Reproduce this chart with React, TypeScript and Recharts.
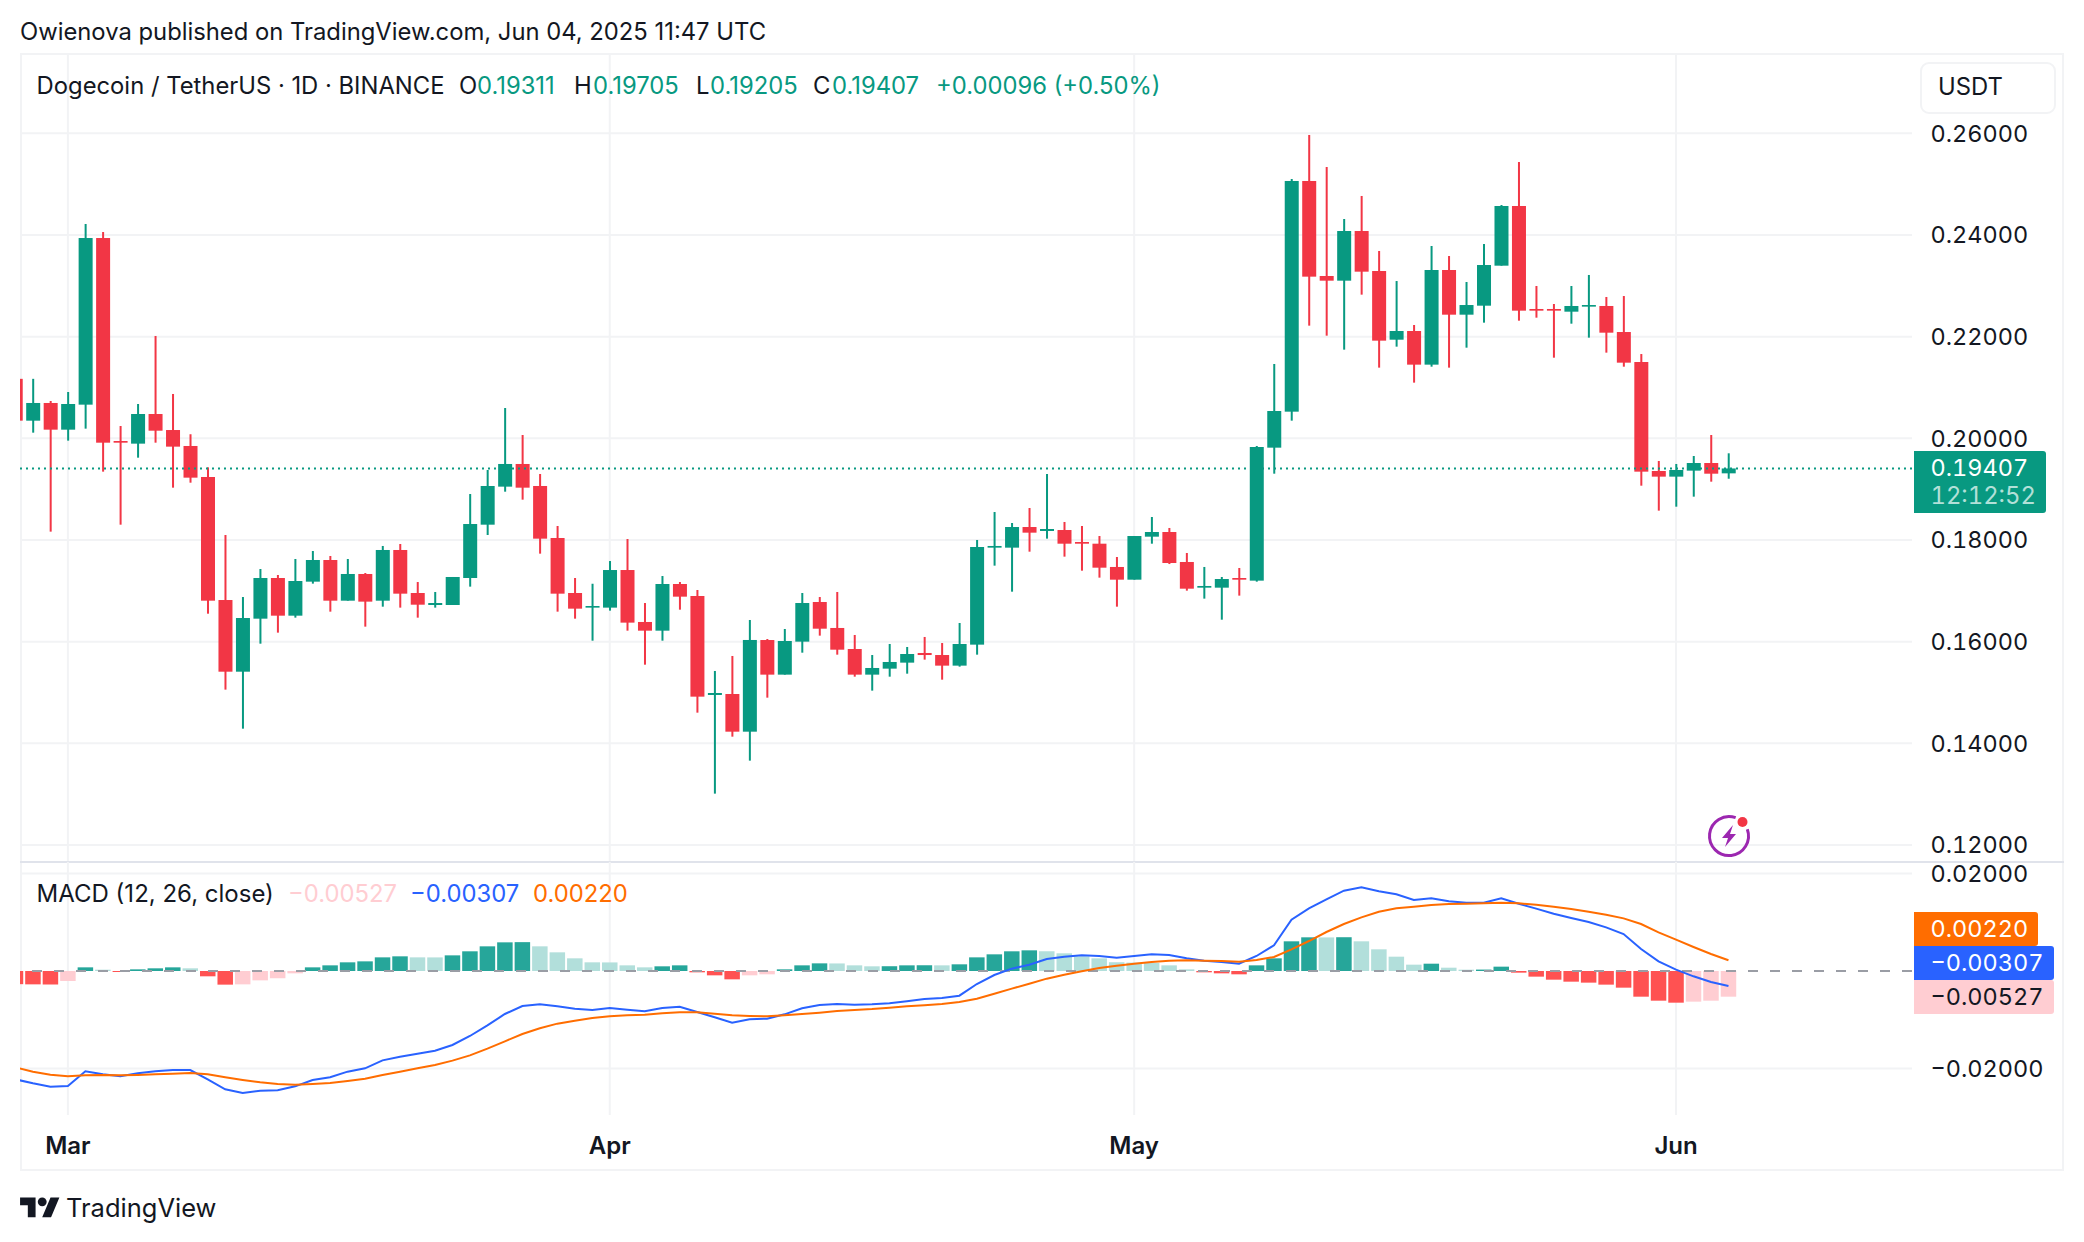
import React from "react";
import { Bar, CartesianGrid, Cell, ComposedChart, Line, ReferenceLine, XAxis, YAxis } from "recharts";

// one bar a day, Feb 26 to Jun 4 2025
const opens = [
  0.2117, 0.20347, 0.20695, 0.2017, 0.20662, 0.2394, 0.19947, 0.19895, 0.20478, 0.20163, 0.19849,
  0.19239, 0.16819, 0.15409, 0.16452, 0.17252, 0.16511, 0.1718, 0.17606, 0.16806, 0.17331, 0.16806,
  0.17803, 0.16957, 0.16721, 0.16721, 0.17252, 0.18301, 0.19049, 0.19495, 0.19062, 0.18039, 0.16957,
  0.16669, 0.16669, 0.17409, 0.16387, 0.16216, 0.17134, 0.16898, 0.14951, 0.1497, 0.14229, 0.16032,
  0.15351, 0.16, 0.1678, 0.16269, 0.15855, 0.15351, 0.15469, 0.15587, 0.15777, 0.15737, 0.15528,
  0.15941, 0.17849, 0.17849, 0.18255, 0.18177, 0.18196, 0.1796, 0.17927, 0.17469, 0.17219, 0.18065,
  0.18157, 0.17567, 0.17062, 0.17062, 0.17252, 0.172, 0.19816, 0.20524, 0.25062, 0.23193, 0.23101,
  0.24078, 0.23291, 0.2194, 0.22111, 0.21449, 0.23311, 0.22432, 0.22609, 0.23396, 0.2457, 0.22544,
  0.22544, 0.22491, 0.2259, 0.22603, 0.22091, 0.21501, 0.19357, 0.19246, 0.19364, 0.19514, 0.19311,
];
const closes = [
  0.20347, 0.20695, 0.2017, 0.20675, 0.2394, 0.19914, 0.19914, 0.20478, 0.2015, 0.19836, 0.19226,
  0.16806, 0.15409, 0.16465, 0.17252, 0.16511, 0.17193, 0.17606, 0.16806, 0.17331, 0.16787, 0.17803,
  0.16944, 0.16727, 0.1676, 0.17272, 0.18314, 0.19062, 0.19495, 0.19029, 0.18026, 0.16944, 0.16649,
  0.16701, 0.17409, 0.16374, 0.16216, 0.17134, 0.16885, 0.14918, 0.1499, 0.14229, 0.16033, 0.15351,
  0.16013, 0.1676, 0.16255, 0.15842, 0.15351, 0.15482, 0.156, 0.15757, 0.15737, 0.15528, 0.15954,
  0.17862, 0.17882, 0.18255, 0.18144, 0.18216, 0.17927, 0.17927, 0.17455, 0.17219, 0.18078, 0.18157,
  0.17547, 0.17042, 0.17095, 0.17232, 0.17219, 0.19829, 0.20537, 0.25062, 0.2318, 0.23101, 0.24078,
  0.23278, 0.21921, 0.22111, 0.21449, 0.23311, 0.22432, 0.22622, 0.23409, 0.2457, 0.22511, 0.22511,
  0.22511, 0.22603, 0.22622, 0.22078, 0.21488, 0.19344, 0.19246, 0.19377, 0.19514, 0.19304, 0.19407,
];
const highs = [
  0.2125, 0.2117, 0.20734, 0.20911, 0.24216, 0.24058, 0.20242, 0.20675, 0.22013, 0.20872, 0.2008,
  0.19429, 0.18098, 0.16878, 0.17429, 0.17311, 0.17626, 0.17783, 0.17685, 0.17626, 0.1735, 0.17882,
  0.17921, 0.17173, 0.16977, 0.17272, 0.18904, 0.19377, 0.20596, 0.20065, 0.19298, 0.18275, 0.17252,
  0.17139, 0.17586, 0.18019, 0.1676, 0.17291, 0.17173, 0.17016, 0.15423, 0.15718, 0.16426, 0.16052,
  0.16249, 0.16957, 0.16878, 0.16977, 0.16131, 0.15737, 0.15954, 0.15895, 0.16092, 0.15973, 0.16367,
  0.18, 0.1855, 0.18334, 0.18629, 0.19298, 0.18354, 0.18275, 0.18078, 0.17665, 0.18078, 0.18452,
  0.18236, 0.17744, 0.17469, 0.17272, 0.17449, 0.19849, 0.21462, 0.25101, 0.25967, 0.25337, 0.24314,
  0.24767, 0.23685, 0.23094, 0.22229, 0.23783, 0.23586, 0.23075, 0.23822, 0.24589, 0.25435, 0.22996,
  0.22642, 0.22996, 0.23213, 0.2278, 0.22799, 0.21658, 0.19554, 0.19495, 0.19652, 0.20065, 0.19705,
];
const lows = [
  0.20347, 0.20111, 0.18164, 0.19954, 0.2019, 0.19344, 0.18301, 0.19619, 0.19914, 0.19029, 0.19127,
  0.1655, 0.15056, 0.14288, 0.1596, 0.16177, 0.16472, 0.17141, 0.1659, 0.16806, 0.16295, 0.16688,
  0.16669, 0.16472, 0.16669, 0.16721, 0.17082, 0.18098, 0.1895, 0.18793, 0.17731, 0.1659, 0.16452,
  0.16019, 0.1661, 0.16216, 0.15547, 0.16019, 0.16629, 0.14603, 0.1301, 0.14131, 0.13659, 0.14898,
  0.15351, 0.15783, 0.16118, 0.15744, 0.15311, 0.15036, 0.15311, 0.1537, 0.15646, 0.15252, 0.15508,
  0.15744, 0.17495, 0.16983, 0.1777, 0.18026, 0.17672, 0.17396, 0.17259, 0.16688, 0.17219, 0.17927,
  0.17527, 0.17003, 0.16846, 0.16432, 0.16905, 0.1718, 0.19304, 0.20347, 0.22216, 0.22019, 0.21744,
  0.22826, 0.2139, 0.21803, 0.21095, 0.21409, 0.2139, 0.21783, 0.22275, 0.23396, 0.22314, 0.22373,
  0.21586, 0.22255, 0.2198, 0.21685, 0.21409, 0.19068, 0.18577, 0.18655, 0.18852, 0.19147, 0.19205,
];
const histogram = [
  -0.0027, -0.00274, -0.00277, -0.00205, 0.00075, 0.00027, -0.00021, 0.00034, 0.00055, 0.00075, 0.00055,
  -0.00109, -0.0028, -0.00274, -0.00192, -0.0015, -0.00048, 0.00075, 0.00116, 0.00178, 0.00198, 0.0028,
  0.00301, 0.0028, 0.00279, 0.00321, 0.00404, 0.00506, 0.00588, 0.00592, 0.00506, 0.00383, 0.0026,
  0.00178, 0.00176, 0.00116, 0.00075, 0.00096, 0.00116, -0.00027, -0.00089, -0.00171, -0.00089, -0.00068,
  0.00034, 0.00116, 0.00157, 0.00155, 0.00116, 0.00096, 0.00098, 0.00116, 0.00118, 0.00116, 0.00137,
  0.0028, 0.00342, 0.00404, 0.00424, 0.00404, 0.00363, 0.00301, 0.0026, 0.0018, 0.00172, 0.00165,
  0.00116, 0.00034, -0.00027, -0.00048, -0.00068, 0.00116, 0.0026, 0.00609, 0.00691, 0.00689, 0.00693,
  0.00609, 0.00445, 0.00294, 0.0013, 0.0015, 0.00068, 0.00027, 0.00029, 0.00089, -0.00034, -0.00116,
  -0.00178, -0.00219, -0.00239, -0.0028, -0.00342, -0.00527, -0.00609, -0.0065, -0.00629, -0.00609, -0.00527,
];
const macd = [
  -0.02222, -0.02304, -0.02373, -0.02359, -0.02058, -0.0212, -0.02161, -0.02099, -0.02058, -0.02031, -0.02031,
  -0.02222, -0.02427, -0.02503, -0.02455, -0.02448, -0.02366, -0.02236, -0.02181, -0.02065, -0.01997, -0.01833,
  -0.01757, -0.01696, -0.01634, -0.01518, -0.01333, -0.01115, -0.00882, -0.00718, -0.00684, -0.00725, -0.00773,
  -0.008, -0.00759, -0.00793, -0.00827, -0.00759, -0.00732, -0.00841, -0.0095, -0.0106, -0.00992, -0.00978,
  -0.00889, -0.00766, -0.00697, -0.00677, -0.00691, -0.00684, -0.00663, -0.00622, -0.00574, -0.00554, -0.00506,
  -0.00267, -0.00082, 0.00048, 0.0013, 0.00246, 0.00294, 0.00321, 0.00308, 0.00274, 0.00308, 0.00342,
  0.00328, 0.0026, 0.00212, 0.00185, 0.0015, 0.00308, 0.00527, 0.01053, 0.01286, 0.0147, 0.01648,
  0.01716, 0.01634, 0.01573, 0.01456, 0.01491, 0.01429, 0.01402, 0.01402, 0.01491, 0.01381, 0.01279,
  0.01176, 0.01087, 0.01005, 0.00896, 0.00759, 0.00451, 0.00198, 0.00027, -0.00109, -0.00226, -0.00307,
];
const signal = [
  -0.01976, -0.02065, -0.02127, -0.02161, -0.0214, -0.02133, -0.0214, -0.02133, -0.0212, -0.02106, -0.02092,
  -0.0212, -0.02181, -0.02236, -0.02284, -0.02318, -0.02332, -0.02318, -0.02298, -0.02257, -0.02209, -0.02133,
  -0.02065, -0.01997, -0.01928, -0.01839, -0.0173, -0.01593, -0.01443, -0.01292, -0.01176, -0.0108, -0.01019,
  -0.00964, -0.0093, -0.00909, -0.00896, -0.00868, -0.00848, -0.00848, -0.00875, -0.00909, -0.00923, -0.0093,
  -0.00909, -0.00882, -0.00855, -0.00821, -0.008, -0.0078, -0.00752, -0.00725, -0.00704, -0.00677, -0.00636,
  -0.00568, -0.00465, -0.00362, -0.0026, -0.00157, -0.00075, -0.00007, 0.00062, 0.00109, 0.0015, 0.00185,
  0.00212, 0.00219, 0.00212, 0.00205, 0.00191, 0.00226, 0.00287, 0.00444, 0.00615, 0.008, 0.00964,
  0.01101, 0.01217, 0.01286, 0.0132, 0.01354, 0.01374, 0.01381, 0.01388, 0.01402, 0.01388, 0.01361,
  0.0132, 0.01272, 0.01217, 0.01156, 0.0108, 0.00964, 0.00793, 0.00643, 0.00492, 0.00349, 0.0022,
];

const monthLabels = ["Mar", "Apr", "May", "Jun"];
const monthTicks = [0, 31, 61, 92]; // days since Mar 1
const priceTicks = [0.12, 0.14, 0.16, 0.18, 0.2, 0.22, 0.24, 0.26];
const macdTicks = [-0.02, 0.02];
const lastClose = 0.19407;

const UP = "#089981";
const DOWN = "#f23645";
const GRID = "#f2f3f5";
const TEXT = "#131722";
const FONT = "Inter, sans-serif";
const NUMS = "tabular-nums";

// bar i sits i-3 days from Mar 1
const table = opens.map((open, i) => ({
  day: i - 3,
  open,
  close: closes[i],
  high: highs[i],
  low: lows[i],
  wick: [lows[i], highs[i]],
  hist: histogram[i],
  macd: macd[i],
  signal: signal[i],
}));

function histColor(i: number) {
  const v = histogram[i];
  const rising = i > 0 && v > histogram[i - 1];
  if (v >= 0) return rising ? "#26a69a" : "#b2dfdb";
  return rising ? "#ffcdd2" : "#ff5252";
}

function Candle(props: any) {
  const { x, y, width, height, payload } = props;
  const top = Math.min(y, y + height);
  const h = Math.abs(height);
  const perUnit = h / (payload.high - payload.low);
  const upper = Math.max(payload.open, payload.close);
  const lower = Math.min(payload.open, payload.close);
  const bodyY = top + (payload.high - upper) * perUnit;
  const bodyH = Math.max((upper - lower) * perUnit, 1);
  const color = payload.close >= payload.open ? UP : DOWN;
  return (
    <g>
      <rect x={x + width / 2 - 1} y={top} width={2} height={h} fill={color} />
      <rect x={x} y={bodyY} width={width} height={bodyH} fill={color} />
    </g>
  );
}

const formatPrice = (v: number) => (v < 0 ? "\u2212" : "") + Math.abs(v).toFixed(5);

function Txt({ x, y, color = TEXT, size = 23.8, weight = 400, nums = "normal", children }: any) {
  return (
    <div
      style={{
        position: "absolute",
        left: x,
        top: y - 20,
        height: 40,
        lineHeight: "40px",
        fontSize: size,
        fontWeight: weight,
        fontVariantNumeric: nums,
        color,
        whiteSpace: "nowrap",
      }}
    >
      {children}
    </div>
  );
}

function Badge({ top, height, right, bg, children }: any) {
  return (
    <div
      style={{
        position: "absolute",
        left: 1914,
        top,
        width: right - 1914,
        height,
        background: bg,
        borderRadius: "0 3px 3px 0",
      }}
    >
      {children}
    </div>
  );
}

export default function App() {
  return (
    <div
      style={{
        position: "absolute",
        left: 0,
        top: 0,
        width: 2084,
        height: 1242,
        background: "#fff",
        overflow: "hidden",
        fontFamily: FONT,
      }}
    >
      <Txt x={20} y={32}>Owienova published on TradingView.com, Jun 04, 2025 11:47 UTC</Txt>

      <div style={{ position: "absolute", left: 20, top: 53, width: 2044, height: 1118, boxSizing: "border-box", border: `2px solid ${GRID}` }} />

      <div style={{ position: "absolute", left: 20, top: 54 }}>
        <ComposedChart width={2044} height={807} data={table} margin={{ top: 0, right: 0, bottom: 0, left: 0 }}>
          <CartesianGrid stroke={GRID} strokeWidth={2} verticalValues={monthTicks} horizontalValues={priceTicks} />
          <XAxis dataKey="day" type="number" domain={[-2.74, 105.5]} allowDataOverflow ticks={monthTicks} hide />
          <YAxis
            orientation="right"
            width={152}
            domain={[0.11685, 0.2756]}
            allowDataOverflow
            ticks={priceTicks}
            interval={0}
            tickFormatter={formatPrice}
            axisLine={false}
            tickLine={false}
            tickSize={0}
            tickMargin={18.5}
            tick={{ fill: TEXT, fontSize: 23.5, fontFamily: FONT, style: { fontVariantNumeric: NUMS } }}
          />
          <Bar dataKey="wick" barSize={14} shape={<Candle />} isAnimationActive={false} />
          <ReferenceLine y={lastClose} stroke={UP} strokeWidth={2} strokeDasharray="2 4" />
        </ComposedChart>
      </div>

      <div style={{ position: "absolute", left: 20, top: 860.5, width: 2044, height: 2, background: "#e0e3eb" }} />

      {/* extra 20px on top so the 0.02 label isn't up against the svg edge */}
      <div style={{ position: "absolute", left: 20, top: 842 }}>
        <ComposedChart width={2044} height={330} data={table} margin={{ top: 20, right: 0, bottom: 0, left: 0 }}>
          <CartesianGrid stroke={GRID} strokeWidth={2} verticalValues={monthTicks} horizontalValues={macdTicks} />
          <XAxis
            dataKey="day"
            type="number"
            domain={[-2.74, 105.5]}
            allowDataOverflow
            ticks={monthTicks}
            interval={0}
            height={57}
            tickFormatter={(v: number) => monthLabels[monthTicks.indexOf(v)]}
            axisLine={false}
            tickLine={false}
            tickSize={0}
            tickMargin={22}
            tick={{ fill: TEXT, fontSize: 24, fontWeight: 600, fontFamily: FONT }}
          />
          <YAxis
            orientation="right"
            width={152}
            domain={[-0.02954, 0.02236]}
            allowDataOverflow
            ticks={macdTicks}
            interval={0}
            tickFormatter={formatPrice}
            axisLine={false}
            tickLine={false}
            tickSize={0}
            tickMargin={18.5}
            tick={{ fill: TEXT, fontSize: 23.5, fontFamily: FONT, style: { fontVariantNumeric: NUMS } }}
          />
          <Bar dataKey="hist" barSize={15.5} isAnimationActive={false}>
            {table.map((row, i) => (
              <Cell key={row.day} fill={histColor(i)} />
            ))}
          </Bar>
          <ReferenceLine y={0} stroke="#9a9da5" strokeWidth={2} strokeDasharray="10 12" />
          <Line dataKey="macd" type="linear" stroke="#2962ff" strokeWidth={2} dot={false} isAnimationActive={false} />
          <Line dataKey="signal" type="linear" stroke="#ff6d00" strokeWidth={2} dot={false} isAnimationActive={false} />
        </ComposedChart>
      </div>

      {/* legend rows */}
      <Txt x={36.6} y={86}>Dogecoin / TetherUS · 1D · BINANCE</Txt>
      <Txt x={459} y={86}>O</Txt>
      <Txt x={477} y={86} color={UP}>0.19311</Txt>
      <Txt x={574} y={86}>H</Txt>
      <Txt x={593} y={86} color={UP}>0.19705</Txt>
      <Txt x={696} y={86}>L</Txt>
      <Txt x={710} y={86} color={UP}>0.19205</Txt>
      <Txt x={813} y={86}>C</Txt>
      <Txt x={832} y={86} color={UP}>0.19407</Txt>
      <Txt x={936} y={86} color={UP}>+0.00096 (+0.50%)</Txt>

      <Txt x={36.6} y={894} size={24}>MACD (12, 26, close)</Txt>
      <Txt x={288} y={894} color="#ffcdd2">{"\u22120.00527"}</Txt>
      <Txt x={410} y={894} color="#2962ff">{"\u22120.00307"}</Txt>
      <Txt x={533} y={894} color="#ff6d00">0.00220</Txt>

      {/* currency box */}
      <div style={{ position: "absolute", left: 1920, top: 62, width: 136, height: 52, boxSizing: "border-box", border: `2px solid ${GRID}`, borderRadius: 9, background: "#fff" }} />
      <Txt x={1938} y={87}>USDT</Txt>

      {/* last price and indicator badges */}
      <Badge top={451} height={62} right={2046} bg={UP}>
        <Txt x={16.5} y={17} size={23.5} color="#fff" nums={NUMS}>0.19407</Txt>
        <Txt x={16.5} y={45} color="#b2e0d8" nums={NUMS}>12:12:52</Txt>
      </Badge>
      <Badge top={912} height={34} right={2038} bg="#ff6d00">
        <Txt x={16.5} y={17} size={23.5} color="#fff" nums={NUMS}>0.00220</Txt>
      </Badge>
      <Badge top={946} height={34} right={2054} bg="#2962ff">
        <Txt x={16.5} y={17} size={23.5} color="#fff" nums={NUMS}>{"\u22120.00307"}</Txt>
      </Badge>
      <Badge top={980} height={34} right={2054} bg="#ffcdd2">
        <Txt x={16.5} y={17} size={23.5} nums={NUMS}>{"\u22120.00527"}</Txt>
      </Badge>

      {/* bolt icon */}
      <svg style={{ position: "absolute", left: 1703, top: 810 }} width={52} height={52}>
        <path d="M44.3 19.3 A19.5 19.5 0 1 1 32.67 7.7" fill="none" stroke="#9c27b0" strokeWidth={3} />
        <path d="M30 15 L19 28 H25 L22 37 L33 24 H27 Z" fill="#9c27b0" />
        <circle cx={39.5} cy={12} r={5} fill="#f23645" />
      </svg>

      {/* footer logo */}
      <svg style={{ position: "absolute", left: 20, top: 1192.6 }} width={40} height={31} viewBox="0 0 36 28">
        <path d="M14 22H7V11H0V4h14v18zM28 22h-8l7.5-18h8L28 22z" fill={TEXT} />
        <circle cx={20} cy={8} r={4} fill={TEXT} />
      </svg>
      <Txt x={66} y={1208} size={25.5}>TradingView</Txt>
    </div>
  );
}
